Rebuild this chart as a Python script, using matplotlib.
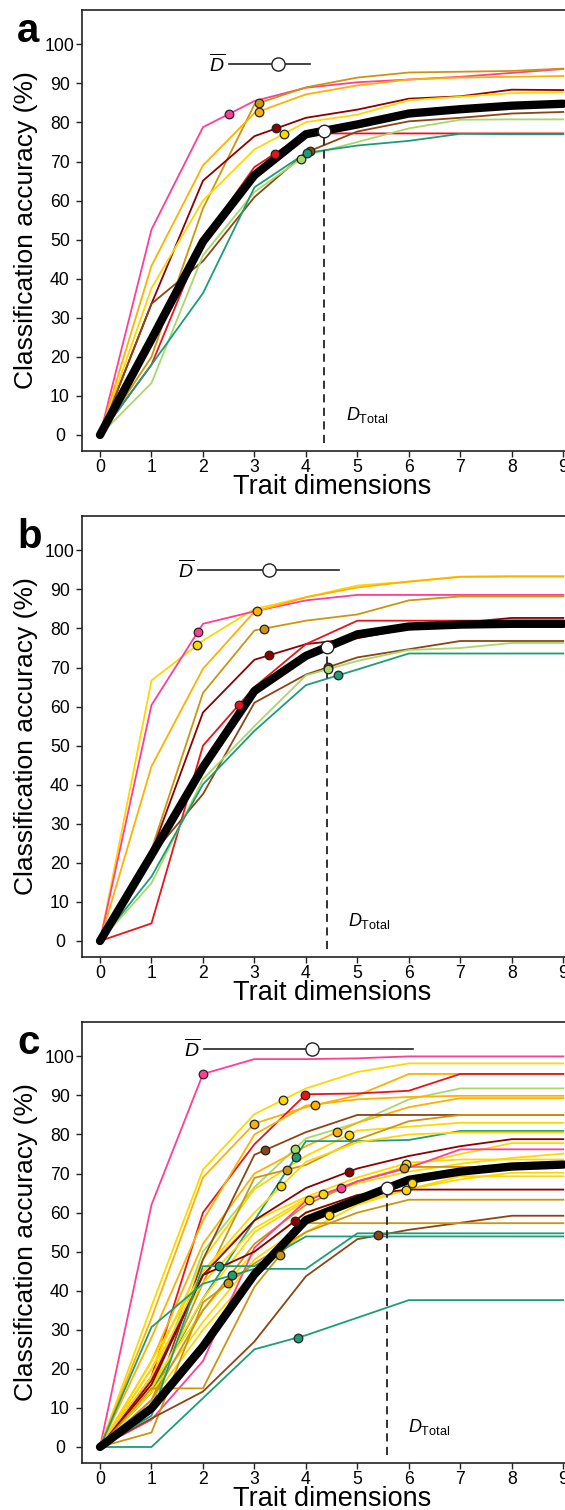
import numpy as np
import matplotlib
matplotlib.use('Agg')
import matplotlib.pyplot as plt

plt.rcParams['font.family'] = ['Liberation Sans', 'DejaVu Sans']
plt.rcParams['mathtext.fontset'] = 'custom'
plt.rcParams['mathtext.rm'] = 'Liberation Sans'
plt.rcParams['mathtext.it'] = 'Liberation Sans:italic'
plt.rcParams['mathtext.bf'] = 'Liberation Sans:bold'

dims = list(range(10))

PINK = '#FF3E96'
GOLD = '#FFD700'
AMBER = '#FFB000'
GOLDENROD = '#CD950C'
DARKRED = '#8B0000'
RED = '#E8141C'
BROWN = '#8B4513'
LIGHTGREEN = '#A6D96A'
TEAL = '#1B9E77'

# ---- panel a ----
a_colors = [PINK, GOLDENROD, AMBER, DARKRED, GOLD, RED, BROWN, LIGHTGREEN, TEAL]
a_lines = [
    [0, 52.6, 78.8, 85.5, 88.9, 90.3, 91.0, 91.7, 92.7, 93.7],
    [0, 20.0, 58.0, 84.6, 89.0, 91.5, 92.8, 93.0, 93.2, 93.8],
    [0, 43.3, 69.0, 82.4, 87.2, 89.5, 91.0, 91.5, 91.7, 91.9],
    [0, 33.6, 65.1, 76.5, 81.2, 83.3, 86.1, 86.7, 88.4, 88.3],
    [0, 37.6, 60.0, 73.1, 80.1, 82.0, 85.7, 86.6, 87.5, 87.8],
    [0, 18.0, 50.0, 68.6, 77.2, 77.2, 77.2, 77.2, 77.2, 77.2],
    [0, 33.6, 44.5, 60.9, 72.3, 77.7, 80.3, 81.2, 82.3, 82.7],
    [0, 13.3, 46.0, 62.2, 71.6, 75.0, 78.5, 80.7, 80.8, 80.8],
    [0, 18.0, 36.3, 63.4, 72.2, 74.1, 75.3, 77.1, 77.0, 77.0],
]
a_dot_x = [2.51, 3.08, 3.08, 3.42, 3.58, 3.40, 4.07, 3.90, 4.02]
a_total = [0, 24.5, 49.5, 66.5, 77.0, 79.5, 82.3, 83.4, 84.3, 84.8]
a_d_total = 4.36
a_d_bar = (2.51, 3.45, 4.07)
a_bar_y = 95.0

# ---- panel b ----
b_colors = [GOLD, PINK, AMBER, GOLDENROD, DARKRED, RED, BROWN, LIGHTGREEN, TEAL]
b_lines = [
    [0, 66.7, 76.9, 85.0, 88.0, 91.0, 92.0, 93.3, 93.4, 93.4],
    [0, 60.4, 81.2, 84.4, 87.2, 88.6, 88.6, 88.6, 88.6, 88.6],
    [0, 44.7, 69.7, 84.3, 88.0, 90.5, 92.0, 93.2, 93.3, 93.3],
    [0, 23.4, 63.5, 79.5, 82.0, 83.6, 87.2, 88.2, 88.2, 88.2],
    [0, 22.6, 58.5, 72.0, 76.0, 77.5, 80.0, 81.5, 82.7, 82.7],
    [0, 4.5, 50.0, 65.0, 76.0, 82.0, 82.0, 82.0, 82.0, 82.0],
    [0, 22.0, 37.6, 61.0, 68.2, 72.6, 74.7, 76.8, 76.8, 76.8],
    [0, 14.8, 41.4, 55.0, 68.0, 71.7, 74.5, 75.0, 76.3, 76.3],
    [0, 16.5, 40.1, 53.8, 65.5, 69.5, 73.6, 73.6, 73.6, 73.6],
]
b_dot_x = [1.89, 1.90, 3.05, 3.19, 3.28, 2.70, 4.43, 4.43, 4.63]
b_total = [0, 22.0, 44.5, 64.0, 73.0, 78.5, 80.5, 81.0, 81.2, 81.2]
b_d_total = 4.40
b_d_bar = (1.90, 3.28, 4.64)
b_bar_y = 95.0

# ---- panel c ----
c_colors = [PINK, GOLD, AMBER, RED, LIGHTGREEN, AMBER, AMBER, GOLD, BROWN,
            GOLDENROD, TEAL, GOLD, GOLD, GOLD, GOLD, GOLD, GOLD, GOLD,
            GOLDENROD, PINK, DARKRED, DARKRED, GOLDENROD, BROWN, GOLDENROD,
            TEAL, TEAL, TEAL]
c_lines = [
    [0, 62.0, 95.5, 99.3, 99.3, 99.5, 100, 100, 100, 100],
    [0, 36.0, 71.0, 85.2, 91.8, 96.0, 98.2, 98.2, 98.2, 98.2],
    [0, 33.0, 69.0, 82.8, 87.0, 90.0, 95.5, 95.5, 95.5, 95.5],
    [0, 18.0, 60.0, 77.5, 90.3, 90.5, 91.2, 95.5, 95.5, 95.5],
    [0, 14.0, 50.0, 66.5, 79.0, 83.0, 89.0, 91.8, 91.8, 91.8],
    [0, 28.0, 58.0, 80.0, 87.4, 89.0, 89.6, 89.9, 89.9, 89.9],
    [0, 22.0, 52.0, 70.0, 77.0, 83.0, 87.0, 89.3, 89.3, 89.3],
    [0, 20.0, 48.0, 66.0, 74.5, 81.0, 82.0, 83.0, 83.0, 83.0],
    [0, 10.0, 48.0, 74.8, 80.6, 85.0, 85.0, 85.0, 85.0, 85.0],
    [0, 12.0, 42.0, 68.9, 72.2, 78.7, 83.4, 85.0, 85.0, 85.0],
    [0, 14.0, 38.0, 58.0, 78.3, 78.3, 78.6, 80.9, 80.9, 80.9],
    [0, 18.0, 45.0, 60.0, 73.0, 78.0, 80.0, 80.5, 80.5, 80.5],
    [0, 15.0, 38.0, 55.0, 63.0, 68.0, 72.0, 75.0, 77.8, 77.8],
    [0, 20.0, 42.0, 56.0, 63.5, 67.5, 70.5, 72.5, 74.0, 75.1],
    [0, 14.0, 32.0, 48.0, 57.0, 62.5, 66.0, 69.3, 69.3, 69.3],
    [0, 22.0, 45.0, 58.0, 64.0, 69.0, 72.8, 73.6, 73.6, 73.6],
    [0, 12.0, 30.0, 45.0, 55.0, 62.0, 66.0, 68.5, 70.2, 70.2],
    [0, 16.0, 35.0, 50.0, 60.0, 64.5, 67.5, 70.5, 72.0, 72.6],
    [0, 12.0, 35.0, 52.0, 62.0, 68.0, 71.7, 71.7, 71.7, 71.7],
    [0, 7.0, 22.0, 51.0, 63.0, 68.0, 71.5, 76.2, 76.2, 76.2],
    [0, 16.0, 44.0, 58.0, 66.3, 71.3, 74.5, 77.0, 78.8, 78.8],
    [0, 17.0, 44.0, 50.0, 60.0, 64.5, 65.9, 65.9, 65.9, 65.9],
    [0, 3.7, 37.0, 47.0, 55.0, 60.0, 63.3, 63.3, 63.3, 63.3],
    [0, 7.3, 14.2, 27.0, 43.7, 53.2, 55.6, 57.4, 59.2, 59.2],
    [0, 15.0, 15.0, 41.0, 57.3, 57.3, 57.3, 57.3, 57.3, 57.3],
    [0, 30.7, 41.8, 45.6, 45.6, 54.7, 54.7, 54.7, 54.7, 54.7],
    [0, 8.0, 46.3, 46.3, 53.9, 53.9, 53.9, 53.9, 53.9, 53.9],
    [0, 0.0, 12.5, 25.0, 28.6, 33.1, 37.6, 37.6, 37.6, 37.6],
]
c_dot_x = [2.00, 3.56, 3.00, 3.99, 3.78, 4.17, 4.61, 4.84, 3.21,
           3.63, 3.80, 3.52, 4.06, 4.33, 4.45, 5.94, 5.94, 6.06,
           5.91, 4.68, 4.84, 3.78, 2.49, 5.40, 3.50,
           2.56, 2.32, 3.84]
c_total = [0, 9.9, 25.7, 44.2, 58.1, 63.3, 68.4, 70.5, 71.8, 72.3]
c_d_total = 5.57
c_d_bar = (2.02, 4.12, 6.08)
c_bar_y = 101.9

panels = [
    ('a', a_colors, a_lines, a_dot_x, a_total, a_d_total, a_d_bar, a_bar_y),
    ('b', b_colors, b_lines, b_dot_x, b_total, b_d_total, b_d_bar, b_bar_y),
    ('c', c_colors, c_lines, c_dot_x, c_total, c_d_total, c_d_bar, c_bar_y),
]

W, H = 565, 1510
fig = plt.figure(figsize=(W / 100, H / 100), dpi=100)

ax_left_px = 82
ax_right_px = 581.3
ax_h_px = 441
tops_px = [10, 516, 1022]

for (letter, colors, lines, dot_x, total, d_total, d_bar, bar_y), top in zip(panels, tops_px):
    ax = fig.add_axes([ax_left_px / W, 1 - (top + ax_h_px) / H,
                       (ax_right_px - ax_left_px) / W, ax_h_px / H])
    ax.set_xlim(-0.35, 9.35)
    ax.set_ylim(-4.1, 108.8)

    for col, vals in zip(colors, lines):
        ax.plot(dims, vals, color=col, lw=1.3, solid_joinstyle='miter', zorder=2)

    ax.plot(dims, total, color='black', lw=6.0, solid_capstyle='round',
            solid_joinstyle='round', zorder=3)

    for col, vals, dx in zip(colors, lines, dot_x):
        ax.plot([dx], [np.interp(dx, dims, vals)], 'o', ms=6.2, mfc=col,
                mec='#222222', mew=0.9, zorder=5)

    y_total = np.interp(d_total, dims, total)
    ax.plot([d_total, d_total], [-2.0, y_total], color='#222222', lw=1.3,
            dashes=(4.5, 3.0), zorder=4)
    ax.plot([d_total], [y_total], 'o', ms=9, mfc='white', mec='#222222',
            mew=1.0, zorder=6)
    ax.text(d_total + 0.42, 5.0, r'$D_{\mathrm{Total}}$', fontsize=13,
            ha='left', va='center')

    lo, mid, hi = d_bar
    ax.plot([lo, hi], [bar_y, bar_y], color='#222222', lw=1.2, zorder=4)
    ax.plot([mid], [bar_y], 'o', ms=9.5, mfc='white', mec='#222222',
            mew=1.0, zorder=6)
    ax.text(lo - 0.08, bar_y, r'$\overline{D}$', fontsize=14,
            ha='right', va='center')

    ax.set_xticks(dims)
    ax.set_yticks(range(0, 101, 10))
    ax.tick_params(axis='both', length=4, width=1.0, labelsize=12.7,
                   color='#222222')
    ax.tick_params(axis='y', pad=12)
    ax.tick_params(axis='x', pad=1.5)
    plt.setp(ax.get_yticklabels(), ha='center')
    for sp in ax.spines.values():
        sp.set_linewidth(1.2)
        sp.set_color('#222222')

    ax.set_xlabel('Trait dimensions', fontsize=19.5, labelpad=-1.5)
    ax.set_ylabel('Classification accuracy (%)', fontsize=19, labelpad=5)

    fig.text(17 / W, 1 - (top + 31.7) / H, letter, fontsize=29,
             fontweight='bold', ha='left', va='baseline')

fig.savefig('out.png', dpi=100)
